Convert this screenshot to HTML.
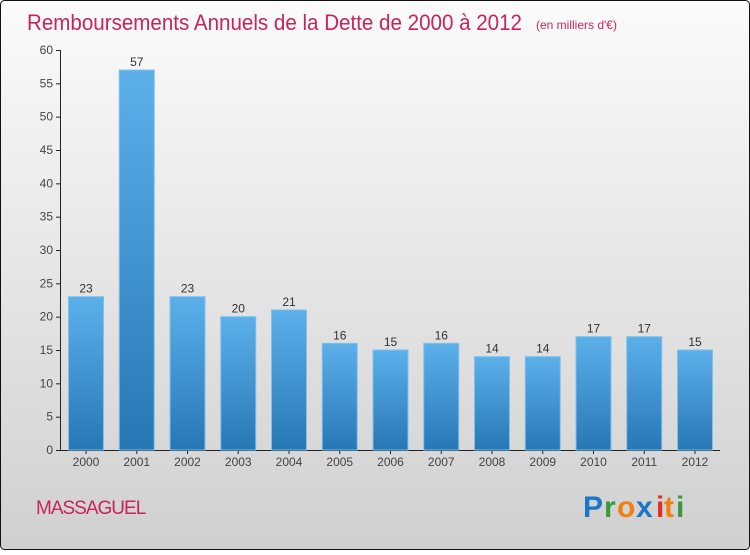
<!DOCTYPE html>
<html><head><meta charset="utf-8"><style>
body{margin:0;width:750px;height:550px;overflow:hidden;font-family:"Liberation Sans",sans-serif}
</style></head><body>
<svg width="750" height="550" xmlns="http://www.w3.org/2000/svg">
<defs>
<linearGradient id="bg" x1="0" y1="0" x2="0" y2="1"><stop offset="0" stop-color="#fbfbfb"/><stop offset="1" stop-color="#d0d0d0"/></linearGradient>
<linearGradient id="bar" x1="0" y1="0" x2="0" y2="1"><stop offset="0" stop-color="#5cb0ea"/><stop offset="1" stop-color="#2877b5"/></linearGradient>
</defs>
<rect x="0.5" y="0.5" width="749" height="549" rx="4" fill="url(#bg)" stroke="#111"/>
<text x="27" y="30" font-size="22" fill="#c8245a" textLength="495" lengthAdjust="spacingAndGlyphs">Remboursements Annuels de la Dette de 2000 à 2012</text>
<text x="536" y="29" font-size="12" fill="#c8245a">(en milliers d'€)</text>
<g id="axes"></g>
<g id="bars"></g>
<text x="36" y="514" font-size="19" fill="#c8245a" letter-spacing="-1">MASSAGUEL</text>
<g font-size="30" font-weight="bold" font-family="'Liberation Sans',sans-serif">
<text x="583" y="517" fill="#1a78c8">P</text><text x="604" y="517" fill="#3a9a3a">r</text><text x="617" y="517" fill="#f08010">o</text><text x="636" y="517" fill="#1a78c8">x</text><text x="656" y="517" fill="#e03020">i</text><text x="664" y="517" fill="#f08010">t</text><text x="676" y="517" fill="#3a9a3a">i</text>
</g>
</svg>
<script>
const years=["2000","2001","2002","2003","2004","2005","2006","2007","2008","2009","2010","2011","2012"];
const values=[23,57,23,20,21,16,15,16,14,14,17,17,15];
const yTicks=[0,5,10,15,20,25,30,35,40,45,50,55,60];
const NS="http://www.w3.org/2000/svg";
const y0=450,y1=50,yMax=60,xStart=86,step=50.75,bw=35;
const yS=v=>y0-(y0-y1)*v/yMax;
const xS=i=>xStart+i*step;
const ax=document.getElementById('axes'),bg=document.getElementById('bars');
function mk(t,a,p){const e=document.createElementNS(NS,t);for(const k in a)e.setAttribute(k,a[k]);p.appendChild(e);return e;}
let l=mk('line',{x1:60.5,y1:y1,x2:60.5,y2:y0,stroke:'#222'},ax);


l=mk('line',{x1:60,y1:y0+0.5,x2:720,y2:y0+0.5,stroke:'#222'},ax);


yTicks.forEach(v=>{
 const y=yS(v);
 mk('line',{x1:56,y1:y+0.5,x2:60,y2:y+0.5,stroke:'#222'},ax);
 const t=mk('text',{x:53,y:y+4,'font-size':12,fill:'#444','text-anchor':'end'},ax);
 t.textContent=v;
 
 
});
years.forEach((yr,i)=>{
 const x=xS(i),v=values[i],top=yS(v);
 const r=mk('rect',{x:x-bw/2,y:top,width:bw,height:y0-top,fill:'url(#bar)',stroke:'#7cc2f0','stroke-width':1},bg);
 
 
 const vl=mk('text',{x:x,y:top-4,'font-size':12,fill:'#333','text-anchor':'middle'},bg);
 vl.textContent=v;
 
 
 mk('line',{x1:x,y1:y0,x2:x,y2:y0+4,stroke:'#222'},ax);
 const xl=mk('text',{x:x,y:466,'font-size':12,fill:'#444','text-anchor':'middle'},ax);
 xl.textContent=yr;
 
 
});
</script>
</body></html>
